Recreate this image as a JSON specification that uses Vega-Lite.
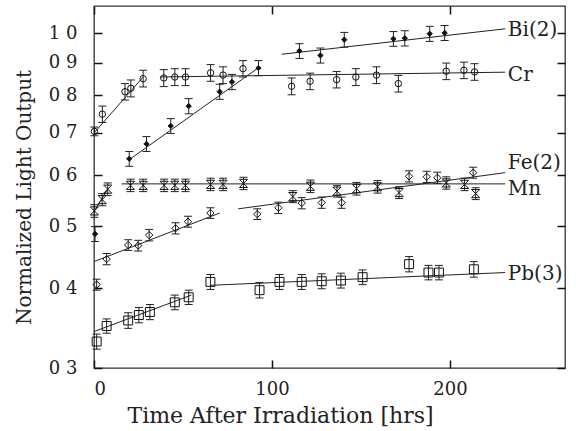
{
  "$schema": "https://vega.github.io/schema/vega-lite/v6.json",
  "width": 471,
  "height": 362,
  "autosize": {"type": "none"},
  "padding": {"left": 94, "top": 6, "right": 11, "bottom": 63},
  "background": "white",
  "config": {
    "font": "DejaVu Serif",
    "view": {"stroke": "#333", "strokeWidth": 1.3},
    "axis": {"grid": false, "domain": false, "labelColor": "#222", "titleColor": "#222", "labelFont": "DejaVu Serif", "titleFont": "DejaVu Serif", "titleFontWeight": "normal"}
  },
  "datasets": {
    "pts": [
      {"s": "Cr", "t": 0.2, "v": 0.703, "lo": 0.692, "hi": 0.714},
      {"s": "Cr", "t": 4.7, "v": 0.748, "lo": 0.726, "hi": 0.770},
      {"s": "Cr", "t": 17.4, "v": 0.811, "lo": 0.787, "hi": 0.835},
      {"s": "Cr", "t": 20.7, "v": 0.821, "lo": 0.796, "hi": 0.846},
      {"s": "Cr", "t": 27.6, "v": 0.850, "lo": 0.825, "hi": 0.876},
      {"s": "Cr", "t": 39.2, "v": 0.852, "lo": 0.826, "hi": 0.878},
      {"s": "Cr", "t": 45.4, "v": 0.855, "lo": 0.829, "hi": 0.881},
      {"s": "Cr", "t": 51.4, "v": 0.855, "lo": 0.829, "hi": 0.881},
      {"s": "Cr", "t": 65.5, "v": 0.868, "lo": 0.842, "hi": 0.894},
      {"s": "Cr", "t": 72.5, "v": 0.861, "lo": 0.835, "hi": 0.887},
      {"s": "Cr", "t": 83.7, "v": 0.881, "lo": 0.855, "hi": 0.907},
      {"s": "Cr", "t": 111, "v": 0.827, "lo": 0.802, "hi": 0.852},
      {"s": "Cr", "t": 121.4, "v": 0.842, "lo": 0.817, "hi": 0.867},
      {"s": "Cr", "t": 136.3, "v": 0.847, "lo": 0.822, "hi": 0.872},
      {"s": "Cr", "t": 147.1, "v": 0.855, "lo": 0.829, "hi": 0.881},
      {"s": "Cr", "t": 158.7, "v": 0.861, "lo": 0.835, "hi": 0.887},
      {"s": "Cr", "t": 171, "v": 0.835, "lo": 0.810, "hi": 0.860},
      {"s": "Cr", "t": 197.9, "v": 0.873, "lo": 0.847, "hi": 0.899},
      {"s": "Cr", "t": 207.8, "v": 0.876, "lo": 0.850, "hi": 0.902},
      {"s": "Cr", "t": 213.8, "v": 0.871, "lo": 0.845, "hi": 0.897},
      {"s": "Bi(2)", "t": 0.6, "v": 0.486, "lo": 0.473, "hi": 0.499},
      {"s": "Bi(2)", "t": 19.8, "v": 0.637, "lo": 0.620, "hi": 0.654},
      {"s": "Bi(2)", "t": 29.5, "v": 0.672, "lo": 0.654, "hi": 0.690},
      {"s": "Bi(2)", "t": 43.1, "v": 0.717, "lo": 0.698, "hi": 0.736},
      {"s": "Bi(2)", "t": 53.2, "v": 0.770, "lo": 0.749, "hi": 0.791},
      {"s": "Bi(2)", "t": 70.6, "v": 0.811, "lo": 0.789, "hi": 0.833},
      {"s": "Bi(2)", "t": 77.5, "v": 0.840, "lo": 0.817, "hi": 0.863},
      {"s": "Bi(2)", "t": 92.4, "v": 0.883, "lo": 0.859, "hi": 0.907},
      {"s": "Bi(2)", "t": 115.4, "v": 0.939, "lo": 0.914, "hi": 0.964},
      {"s": "Bi(2)", "t": 127.2, "v": 0.924, "lo": 0.899, "hi": 0.949},
      {"s": "Bi(2)", "t": 140.6, "v": 0.978, "lo": 0.952, "hi": 1.004},
      {"s": "Bi(2)", "t": 168.2, "v": 0.981, "lo": 0.955, "hi": 1.007},
      {"s": "Bi(2)", "t": 174.6, "v": 0.983, "lo": 0.956, "hi": 1.010},
      {"s": "Bi(2)", "t": 188.6, "v": 0.999, "lo": 0.972, "hi": 1.026},
      {"s": "Bi(2)", "t": 197, "v": 1.002, "lo": 0.975, "hi": 1.029},
      {"s": "Mn", "t": 0.2, "v": 0.528, "lo": 0.516, "hi": 0.540},
      {"s": "Mn", "t": 4.6, "v": 0.550, "lo": 0.538, "hi": 0.562},
      {"s": "Mn", "t": 7.7, "v": 0.571, "lo": 0.558, "hi": 0.584},
      {"s": "Mn", "t": 20.5, "v": 0.579, "lo": 0.566, "hi": 0.592},
      {"s": "Mn", "t": 27.6, "v": 0.579, "lo": 0.566, "hi": 0.592},
      {"s": "Mn", "t": 39.4, "v": 0.579, "lo": 0.566, "hi": 0.592},
      {"s": "Mn", "t": 45.4, "v": 0.579, "lo": 0.566, "hi": 0.592},
      {"s": "Mn", "t": 51.4, "v": 0.579, "lo": 0.566, "hi": 0.592},
      {"s": "Mn", "t": 65.5, "v": 0.581, "lo": 0.568, "hi": 0.594},
      {"s": "Mn", "t": 72.5, "v": 0.581, "lo": 0.568, "hi": 0.594},
      {"s": "Mn", "t": 84, "v": 0.583, "lo": 0.570, "hi": 0.596},
      {"s": "Mn", "t": 111.7, "v": 0.556, "lo": 0.544, "hi": 0.568},
      {"s": "Mn", "t": 121.6, "v": 0.577, "lo": 0.564, "hi": 0.590},
      {"s": "Mn", "t": 136.5, "v": 0.567, "lo": 0.555, "hi": 0.579},
      {"s": "Mn", "t": 147.5, "v": 0.572, "lo": 0.559, "hi": 0.585},
      {"s": "Mn", "t": 159.3, "v": 0.576, "lo": 0.563, "hi": 0.589},
      {"s": "Mn", "t": 171.4, "v": 0.564, "lo": 0.552, "hi": 0.576},
      {"s": "Mn", "t": 197.9, "v": 0.584, "lo": 0.571, "hi": 0.597},
      {"s": "Mn", "t": 208.2, "v": 0.581, "lo": 0.568, "hi": 0.594},
      {"s": "Mn", "t": 214.4, "v": 0.562, "lo": 0.550, "hi": 0.574},
      {"s": "Fe(2)", "t": 1.5, "v": 0.405, "lo": 0.397, "hi": 0.413},
      {"s": "Fe(2)", "t": 7.1, "v": 0.444, "lo": 0.435, "hi": 0.453},
      {"s": "Fe(2)", "t": 19.2, "v": 0.467, "lo": 0.458, "hi": 0.476},
      {"s": "Fe(2)", "t": 24.8, "v": 0.466, "lo": 0.457, "hi": 0.475},
      {"s": "Fe(2)", "t": 31, "v": 0.484, "lo": 0.474, "hi": 0.494},
      {"s": "Fe(2)", "t": 45.8, "v": 0.496, "lo": 0.486, "hi": 0.506},
      {"s": "Fe(2)", "t": 52.8, "v": 0.508, "lo": 0.498, "hi": 0.518},
      {"s": "Fe(2)", "t": 65.4, "v": 0.524, "lo": 0.514, "hi": 0.534},
      {"s": "Fe(2)", "t": 91.7, "v": 0.522, "lo": 0.512, "hi": 0.532},
      {"s": "Fe(2)", "t": 103.6, "v": 0.534, "lo": 0.523, "hi": 0.545},
      {"s": "Fe(2)", "t": 116.7, "v": 0.543, "lo": 0.532, "hi": 0.554},
      {"s": "Fe(2)", "t": 127.9, "v": 0.544, "lo": 0.533, "hi": 0.555},
      {"s": "Fe(2)", "t": 139.1, "v": 0.544, "lo": 0.533, "hi": 0.555},
      {"s": "Fe(2)", "t": 177, "v": 0.598, "lo": 0.586, "hi": 0.610},
      {"s": "Fe(2)", "t": 186.9, "v": 0.597, "lo": 0.585, "hi": 0.609},
      {"s": "Fe(2)", "t": 192.9, "v": 0.595, "lo": 0.583, "hi": 0.607},
      {"s": "Fe(2)", "t": 213, "v": 0.606, "lo": 0.594, "hi": 0.618},
      {"s": "Pb(3)", "t": 1.5, "v": 0.330, "lo": 0.321, "hi": 0.339},
      {"s": "Pb(3)", "t": 7.1, "v": 0.349, "lo": 0.340, "hi": 0.358},
      {"s": "Pb(3)", "t": 19.2, "v": 0.356, "lo": 0.346, "hi": 0.366},
      {"s": "Pb(3)", "t": 25.2, "v": 0.363, "lo": 0.353, "hi": 0.373},
      {"s": "Pb(3)", "t": 31.4, "v": 0.367, "lo": 0.357, "hi": 0.377},
      {"s": "Pb(3)", "t": 45.4, "v": 0.380, "lo": 0.370, "hi": 0.390},
      {"s": "Pb(3)", "t": 53.2, "v": 0.387, "lo": 0.377, "hi": 0.397},
      {"s": "Pb(3)", "t": 65.4, "v": 0.409, "lo": 0.398, "hi": 0.420},
      {"s": "Pb(3)", "t": 93, "v": 0.397, "lo": 0.386, "hi": 0.408},
      {"s": "Pb(3)", "t": 104.2, "v": 0.409, "lo": 0.398, "hi": 0.420},
      {"s": "Pb(3)", "t": 116.7, "v": 0.409, "lo": 0.398, "hi": 0.420},
      {"s": "Pb(3)", "t": 127.9, "v": 0.410, "lo": 0.399, "hi": 0.421},
      {"s": "Pb(3)", "t": 138.7, "v": 0.411, "lo": 0.400, "hi": 0.422},
      {"s": "Pb(3)", "t": 150.9, "v": 0.416, "lo": 0.405, "hi": 0.427},
      {"s": "Pb(3)", "t": 177, "v": 0.436, "lo": 0.424, "hi": 0.448},
      {"s": "Pb(3)", "t": 187.9, "v": 0.423, "lo": 0.412, "hi": 0.434},
      {"s": "Pb(3)", "t": 193.8, "v": 0.423, "lo": 0.412, "hi": 0.434},
      {"s": "Pb(3)", "t": 213.4, "v": 0.428, "lo": 0.416, "hi": 0.440}
    ],
    "fits": [
      {"seg": "Cr1", "t": 0, "v": 0.699},
      {"seg": "Cr1", "t": 27.6, "v": 0.855},
      {"seg": "Cr2", "t": 37, "v": 0.855},
      {"seg": "Cr2", "t": 231, "v": 0.870},
      {"seg": "Bi1", "t": 19.8, "v": 0.635},
      {"seg": "Bi1", "t": 92.4, "v": 0.884},
      {"seg": "Bi2", "t": 105.5, "v": 0.928},
      {"seg": "Bi2", "t": 231, "v": 1.017},
      {"seg": "Mn1", "t": 0.2, "v": 0.528},
      {"seg": "Mn1", "t": 7.7, "v": 0.571},
      {"seg": "Mn2", "t": 15.5, "v": 0.582},
      {"seg": "Mn2", "t": 231, "v": 0.582},
      {"seg": "Fe1", "t": 0, "v": 0.440},
      {"seg": "Fe1", "t": 70.6, "v": 0.524},
      {"seg": "Fe2", "t": 81, "v": 0.532},
      {"seg": "Fe2", "t": 231, "v": 0.606},
      {"seg": "Pb1", "t": 0, "v": 0.342},
      {"seg": "Pb1", "t": 54.7, "v": 0.390},
      {"seg": "Pb2", "t": 65.4, "v": 0.404},
      {"seg": "Pb2", "t": 231, "v": 0.423}
    ],
    "labels": [
      {"name": "Bi(2)", "t": 232.5, "v": 1.014},
      {"name": "Cr", "t": 232.5, "v": 0.860},
      {"name": "Fe(2)", "t": 232.5, "v": 0.627},
      {"name": "Mn", "t": 232.5, "v": 0.571},
      {"name": "Pb(3)", "t": 232.5, "v": 0.421}
    ]
  },
  "resolve": {"axis": {"x": "independent", "y": "independent"}},
  "layer": [
    {
      "data": {"name": "labels"},
      "mark": {"type": "point", "opacity": 0},
      "encoding": {
        "x": {"field": "t", "type": "quantitative", "scale": {"domain": [0, 264.6], "nice": false, "zero": false},
              "axis": {"values": [0, 100, 200], "title": "Time After Irradiation [hrs]", "labelFontSize": 18, "titleFontSize": 22, "offset": -8, "tickSize": 8, "tickColor": "#111", "tickWidth": 1.5, "labelPadding": 12, "titleX": 186, "titleY": 55, "titleAlign": "center", "titleBaseline": "middle"}},
        "y": {"field": "v", "type": "quantitative", "scale": {"type": "log", "domain": [0.3, 1.104], "nice": false, "zero": false},
              "axis": {"values": [0.3, 0.4, 0.5, 0.6, 0.7, 0.8, 0.9, 1.0], "labelExpr": "replace(format(datum.value, '.1f'), '.', ' ')", "title": "Normalized Light Output", "labelFontSize": 18, "titleFontSize": 20, "offset": -8, "tickSize": 8, "tickColor": "#111", "tickWidth": 1.5, "labelPadding": 17, "titleX": -78, "titleY": 191, "titleAlign": "center", "titleBaseline": "middle", "titleAngle": -90}}
      }
    },
    {
      "data": {"name": "labels"},
      "mark": {"type": "point", "opacity": 0},
      "encoding": {
        "x": {"field": "t", "type": "quantitative", "axis": {"orient": "top", "values": [0, 100, 200], "labels": false, "title": null, "offset": -8, "tickSize": 8, "tickColor": "#111", "tickWidth": 1.5}},
        "y": {"field": "v", "type": "quantitative", "axis": {"orient": "right", "values": [0.3, 0.4, 0.5, 0.6, 0.7, 0.8, 0.9, 1.0], "labels": false, "title": null, "offset": -8, "tickSize": 8, "tickColor": "#111", "tickWidth": 1.5}}
      }
    },
    {
      "layer": [
        {
          "data": {"name": "fits"},
          "mark": {"type": "line", "color": "#222", "strokeWidth": 1},
          "encoding": {
            "x": {"field": "t", "type": "quantitative", "axis": null},
            "y": {"field": "v", "type": "quantitative", "axis": null},
            "detail": {"field": "seg"}
          }
        },
        {
          "data": {"name": "pts"},
          "mark": {"type": "rule", "color": "#222", "strokeWidth": 1},
          "encoding": {
            "x": {"field": "t", "type": "quantitative", "axis": null},
            "y": {"field": "lo", "type": "quantitative", "axis": null},
            "y2": {"field": "hi"}
          }
        },
        {
          "data": {"name": "pts"},
          "mark": {"type": "point", "shape": "M-1,0L1,0", "size": 64, "stroke": "#222", "strokeWidth": 1, "filled": false, "opacity": 1},
          "encoding": {
            "x": {"field": "t", "type": "quantitative", "axis": null},
            "y": {"field": "lo", "type": "quantitative", "axis": null}
          }
        },
        {
          "data": {"name": "pts"},
          "mark": {"type": "point", "shape": "M-1,0L1,0", "size": 64, "stroke": "#222", "strokeWidth": 1, "filled": false, "opacity": 1},
          "encoding": {
            "x": {"field": "t", "type": "quantitative", "axis": null},
            "y": {"field": "hi", "type": "quantitative", "axis": null}
          }
        },
        {
          "data": {"name": "pts"},
          "mark": {"type": "point", "strokeWidth": 1, "opacity": 1},
          "encoding": {
            "x": {"field": "t", "type": "quantitative", "axis": null},
            "y": {"field": "v", "type": "quantitative", "axis": null},
            "shape": {"field": "s", "type": "nominal", "legend": null,
                      "scale": {"domain": ["Bi(2)", "Cr", "Fe(2)", "Mn", "Pb(3)"], "range": ["diamond", "circle", "diamond", "M-1,-1L1,-1L-1,1L1,1Z", "square"]}},
            "size": {"field": "s", "type": "nominal", "legend": null,
                     "scale": {"domain": ["Bi(2)", "Cr", "Fe(2)", "Mn", "Pb(3)"], "range": [28, 80, 50, 45, 55]}},
            "fill": {"field": "s", "type": "nominal", "legend": null,
                     "scale": {"domain": ["Bi(2)", "Cr", "Fe(2)", "Mn", "Pb(3)"], "range": ["#111", "transparent", "transparent", "transparent", "transparent"]}},
            "stroke": {"value": "#111"}
          }
        },
        {
          "data": {"name": "labels"},
          "mark": {"type": "text", "align": "left", "baseline": "middle", "fontSize": 20, "color": "#222", "font": "DejaVu Serif"},
          "encoding": {
            "x": {"field": "t", "type": "quantitative", "axis": null},
            "y": {"field": "v", "type": "quantitative", "axis": null},
            "text": {"field": "name"}
          }
        }
      ]
    }
  ]
}
